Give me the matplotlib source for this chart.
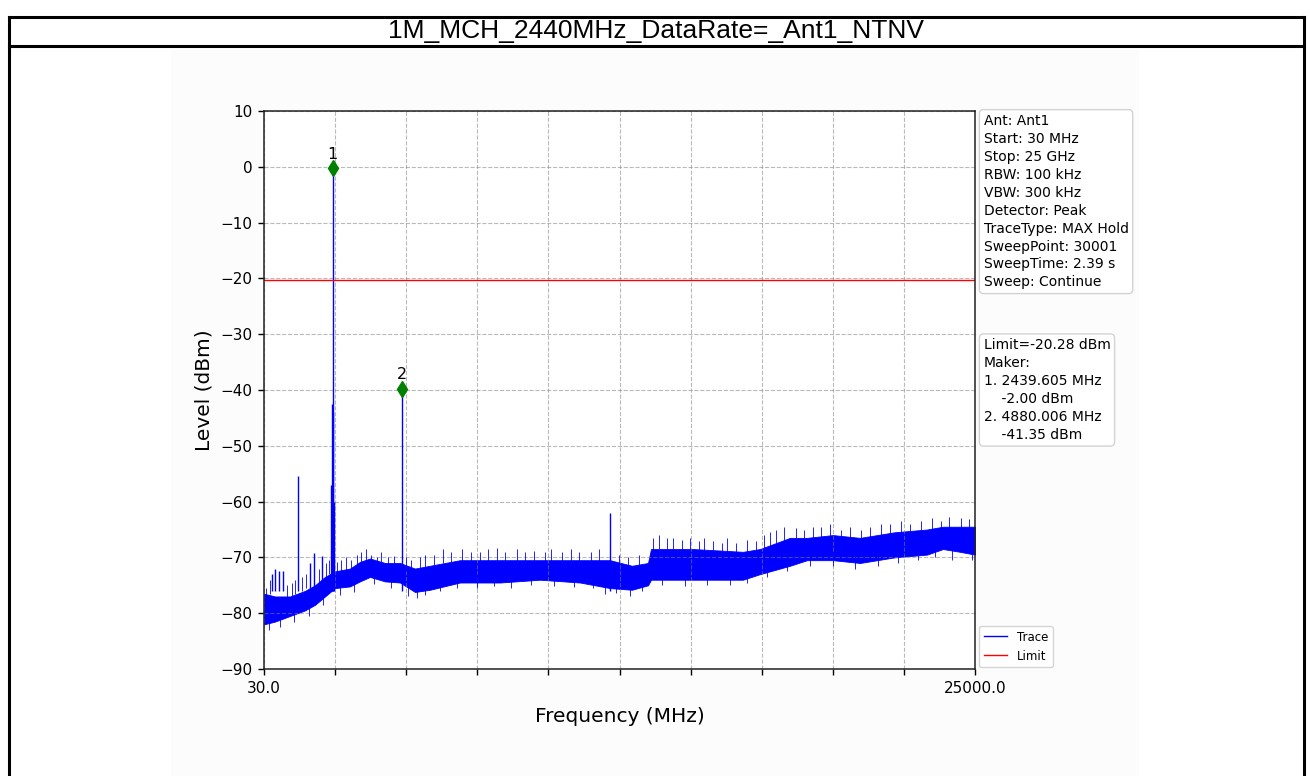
import numpy as np
import matplotlib
matplotlib.use("Agg")
import matplotlib.pyplot as plt
from matplotlib.patches import Rectangle
from matplotlib.lines import Line2D

# ---- data ----
title = "1M_MCH_2440MHz_DataRate=_Ant1_NTNV"
f_start, f_stop = 30.0, 25000.0
limit_dbm = -20.28

# noise floor envelope (MHz, upper dBm, lower dBm)
env_freq = [30, 416, 943, 1470, 1821, 2172, 2524, 3050, 3400, 3753, 4280, 4806,
            5333, 5860, 6914, 8318, 9723, 11128, 12181, 12954, 13516, 13621,
            15096, 16852, 17449, 18503, 19100, 20013, 20961, 22170, 23315,
            23877, 24474, 25000]
env_upper = [-76.5, -77, -77, -76, -75, -73.5, -72.5, -72, -70.8, -70.2, -71, -71,
             -72, -71.5, -70.5, -70.5, -70.5, -70.5, -70.5, -71.5, -71, -68.5,
             -68.5, -69, -68.5, -66.5, -66.5, -66, -66.5, -65.5, -65, -64.5,
             -64.5, -64.5]
env_lower = [-82, -81.5, -80.5, -79.5, -78.5, -77, -75.5, -75.2, -74.3, -73.5, -74.3,
             -74.5, -76.2, -75.8, -74.5, -74.5, -74, -74.5, -75.5, -75.8, -75, -74,
             -74, -74, -73, -71.5, -70.5, -70.5, -71, -70, -69.5, -68.5,
             -69, -69.5]

# spikes above the floor (MHz, peak dBm)
spike_freq = [300, 420, 560, 700, 1224, 1650, 1800, 2060, 2400, 2430, 2440,
              2452, 2480, 4880, 12181]
spike_level = [-73, -72, -72.5, -72.5, -55.5, -71, -69.3, -69.7, -57, -42.5,
               -0.3, -44, -60, -39.8, -62]

# noise whiskers above the band (MHz, dBm)
up_freq = [100, 250, 850, 1000, 1120, 1350, 1500, 1950, 2200, 2300,
           2600, 2750, 2900, 3100, 3300, 3450, 3600, 3800, 4000, 4150, 4400,
           4600, 5000, 5200, 5500, 5700, 6000, 6300, 6600, 7000, 7300, 7600,
           7900, 8200, 8500, 8900, 9200, 9500, 9900, 10100, 10500, 10800,
           11100, 11500, 11800, 12500, 12800, 13200,
           13700, 13900, 14200, 14400, 14700, 15000, 15300, 15500, 15800,
           16100, 16300, 16600, 17000, 17300, 17600, 17800, 18000, 18300,
           18700, 19000, 19300, 19600, 19900, 20300, 20600, 21000, 21300,
           21700, 22000, 22400, 22700, 23100, 23500, 23800, 24100, 24500, 24800]
up_level = [-75.5, -74, -75, -74.5, -74, -73.5, -73, -72, -71, -70.5,
            -70.8, -70.5, -70, -70.5, -69.5, -69, -68.5, -69.5, -70, -69, -70,
            -69.8, -70, -70.5, -70, -69.5, -69.5, -68.5, -69, -68.5, -69, -69,
            -68.5, -68.3, -69, -68.5, -69, -68.8, -69, -68.5, -69, -68.5,
            -69, -69, -68.5, -69.5, -70, -69.5,
            -66.5, -66, -66.5, -66.5, -66.8, -66.5, -67, -66.5, -67,
            -67.5, -66.5, -67.5, -66.8, -67, -66, -65.5, -65, -64.5,
            -64.8, -65, -64.5, -64.5, -64, -65, -64.5, -65, -64.5,
            -64, -64, -63.5, -64, -63.5, -63, -63.5, -62.8, -63, -63.2]

# noise whiskers below the band (MHz, dBm)
down_freq = [200, 600, 1100, 1600, 2100, 2700, 3200, 3900, 4500, 5100, 5400,
             5700, 6200, 6800, 7500, 8100, 8700, 9400, 10200, 10900, 11600,
             12000, 12400, 12900, 13300, 14000, 14800, 15600, 16400, 17000,
             17700, 18400, 19200, 20000, 20800, 21600, 22300, 23000, 23600,
             24200, 24900]
down_level = [-83, -82.5, -81.5, -80.5, -78.5, -76.8, -76.2, -74.8, -75.5, -77,
              -77.3, -76.8, -76, -75.5, -75.5, -75.2, -75.5, -75, -75.2, -75.3,
              -75.5, -76.5, -76.3, -77, -76, -75, -75.2, -75, -75, -74.5,
              -73.5, -72.5, -71.5, -71.5, -72, -71.5, -71, -70.5, -70, -70.5,
              -70.5]

marker_freq = [2440, 4880]
marker_level = [-0.3, -39.8]

info_text = ("Ant: Ant1\nStart: 30 MHz\nStop: 25 GHz\nRBW: 100 kHz\nVBW: 300 kHz\n"
             "Detector: Peak\nTraceType: MAX Hold\nSweepPoint: 30001\n"
             "SweepTime: 2.39 s\nSweep: Continue")
marker_text = ("Limit=-20.28 dBm\nMaker:\n1. 2439.605 MHz\n    -2.00 dBm\n"
               "2. 4880.006 MHz\n    -41.35 dBm")

W, H = 1310, 776
fig = plt.figure(figsize=(W / 100, H / 100), dpi=100)

# outer frame with title cell
fig.add_artist(Rectangle((171 / W, 0), (1139 - 171) / W, (H - 50) / H,
                         transform=fig.transFigure, fc="#fcfcfc", ec="none", zorder=0))
for y in (17, 46):
    fig.add_artist(Line2D([9 / W, 1304 / W], [1 - y / H, 1 - y / H], color="black", lw=2.2))
for x in (9, 1304):
    fig.add_artist(Line2D([x / W, x / W], [0, 1 - 17 / H], color="black", lw=2.2))
fig.text(656 / W, 1 - 31 / H, title, ha="center", va="center",
         fontsize=19, family="Liberation Sans")

ax = fig.add_axes([264 / W, 1 - 669 / H, 711 / W, 558 / H])
ax.set_facecolor("white")

ax.fill_between(env_freq, env_lower, env_upper, color="blue", lw=0.6)
ax.vlines(up_freq, up_level, np.array(up_level) - 2.5, color="blue", lw=0.6)
ax.vlines(down_freq, down_level, np.array(down_level) + 2.5, color="blue", lw=0.6)
ax.vlines(spike_freq, [-76] * len(spike_freq), spike_level, color="blue", lw=1)
ax.axhline(limit_dbm, color="red", lw=1)

ax.plot(marker_freq, marker_level, "d", color="green", markersize=8)
for i, (fx, fy) in enumerate(zip(marker_freq, marker_level), start=1):
    ax.text(fx, fy + 1.2, str(i), ha="center", va="bottom", fontsize=11.5)

ax.set_xlim(f_start, f_stop)
ax.set_ylim(-90, 10)
xt = np.linspace(f_start, f_stop, 11)
ax.set_xticks(xt)
ax.set_xticklabels(["30.0"] + [""] * 9 + ["25000.0"])
ax.set_yticks(range(-90, 11, 10))
ax.tick_params(labelsize=11, length=4.5, width=1, pad=4)
for s in ax.spines.values():
    s.set_linewidth(1.1)
    s.set_color("#222222")
ax.grid(True, linestyle="--", color="gray", alpha=0.55, lw=0.8)
ax.set_xlabel("Frequency (MHz)", fontsize=14.5, labelpad=8)
ax.set_ylabel("Level (dBm)", fontsize=14.5, labelpad=5)

box = dict(boxstyle="round,pad=0.3", fc="white", ec="lightgray")
ax.text(1.012, 0.995, info_text, transform=ax.transAxes, va="top", ha="left",
        fontsize=10, linespacing=1.36, bbox=box)
ax.text(1.012, 0.593, marker_text, transform=ax.transAxes, va="top", ha="left",
        fontsize=10, linespacing=1.36, bbox=box)

handles = [Line2D([], [], color="blue", lw=1), Line2D([], [], color="red", lw=1)]
ax.legend(handles, ["Trace", "Limit"], loc="lower left", bbox_to_anchor=(1.003, 0.0),
          fontsize=8.5, borderaxespad=0.15)

fig.savefig("out.png", dpi=100)
